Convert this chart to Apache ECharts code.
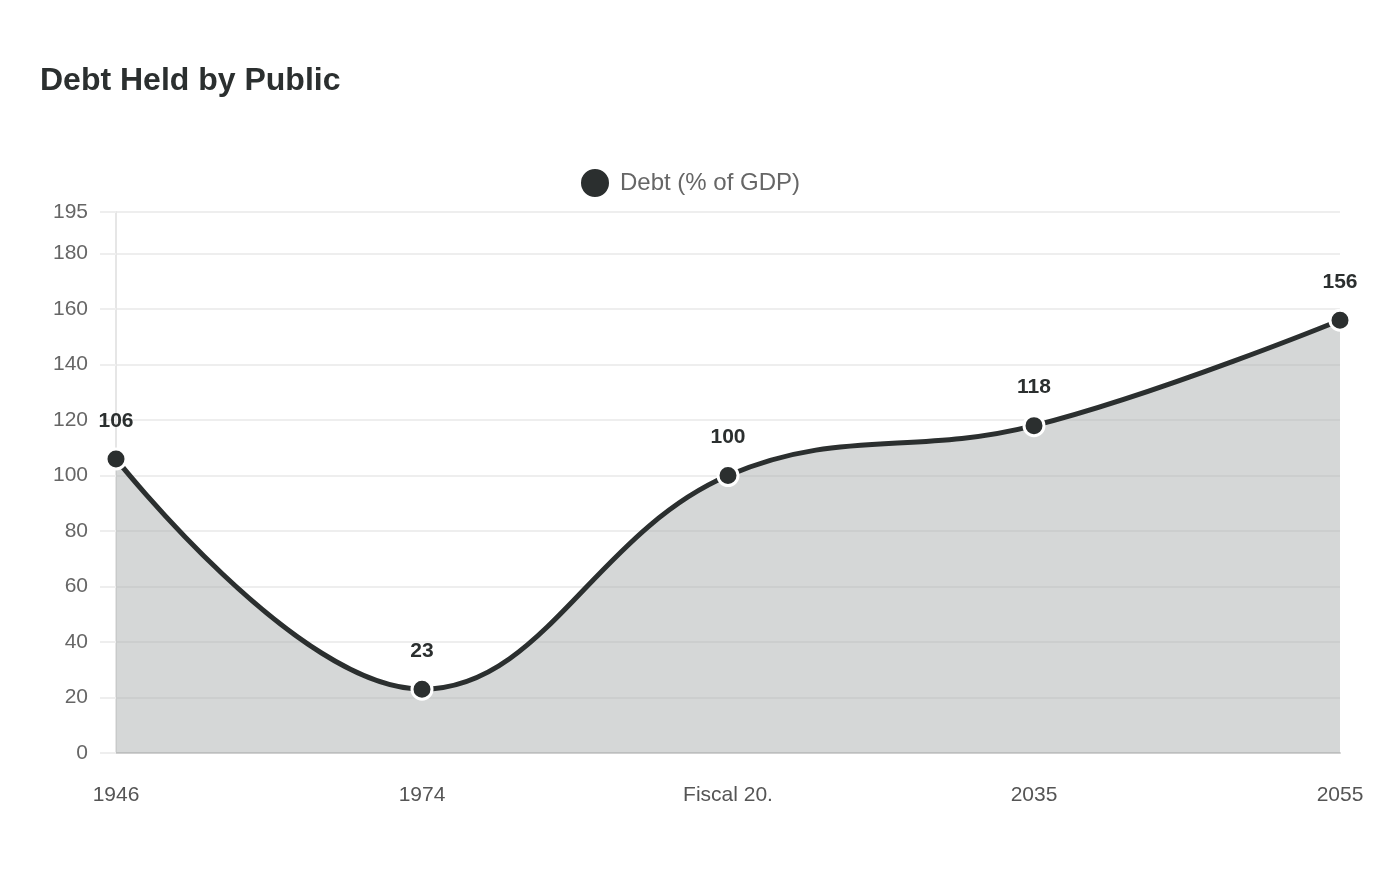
<!DOCTYPE html>
<html><head><meta charset="utf-8">
<script src="https://cdn.jsdelivr.net/npm/echarts@6/dist/echarts.min.js"></script>
<style>html,body{margin:0;padding:0;background:#fff}#c{width:1400px;height:880px}</style>
</head><body><div id="c"></div>
<script>
const categories = ["1946", "1974", "Fiscal 20.", "2035", "2055"];
const debtValues = [106, 23, 100, 118, 156];
const seriesName = "Debt (% of GDP)";
const titleText = "Debt Held by Public";

const chart = echarts.init(document.getElementById('c'));
const font = "'Liberation Sans', Arial, sans-serif";
chart.setOption({
  backgroundColor: '#fff',
  animation: false,
  title: { text: titleText, left: 35, top: 60,
    textStyle: { fontFamily: font, fontSize: 32, fontWeight: 'bold', color: '#2b2f2f' } },
  legend: { top: 162, left: 574, icon: 'circle', itemWidth: 30, itemHeight: 30, itemGap: 10,
    textStyle: { fontFamily: font, fontSize: 24, color: '#666', padding: [0, 0, 0, 5] }, data: [seriesName] },
  grid: { left: 116, right: 60, top: 212, bottom: 127, containLabel: false },
  xAxis: { type: 'category', data: categories, boundaryGap: false,
    axisLine: { show: true, lineStyle: { color: '#d0d0d0', width: 2 } },
    axisTick: { show: false },
    axisLabel: { margin: 32, fontFamily: font, fontSize: 21, color: '#555' },
    splitLine: { show: false } },
  yAxis: { type: 'value', min: 0, max: 195, interval: 20,
    axisLine: { show: true, lineStyle: { color: '#e6e6e6', width: 2 } },
    axisTick: { show: true, length: 16, lineStyle: { color: '#eee', width: 2 } },
    axisLabel: { margin: 28, fontFamily: font, fontSize: 21, color: '#666' },
    splitLine: { show: true, lineStyle: { color: '#eee', width: 2 } } },
  series: [{
    name: seriesName, type: 'line', data: debtValues, smooth: 0.4,
    symbol: 'circle', symbolSize: 20,
    itemStyle: { color: '#2b2f2f', borderColor: '#fff', borderWidth: 3 },
    lineStyle: { color: '#2b2f2f', width: 5 },
    areaStyle: { color: 'rgba(166,170,170,0.47)', opacity: 1 },
    label: { show: true, position: 'top', distance: 16, fontFamily: font, fontSize: 21, fontWeight: 'bold', color: '#2b2f2f' }
  }]
});
</script></body></html>
